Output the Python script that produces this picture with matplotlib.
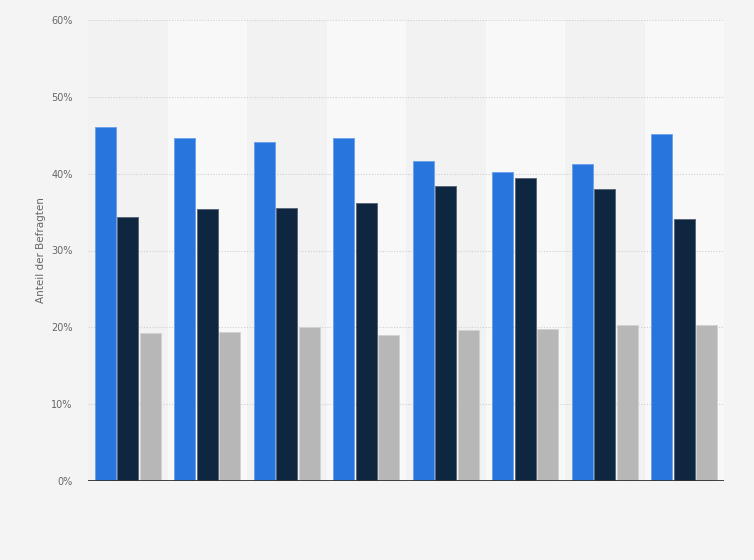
import matplotlib
matplotlib.use("Agg")
import matplotlib.pyplot as plt
import numpy as np

groups = ["1", "2", "3", "4", "5", "6", "7", "8"]
series1 = [46.1, 44.7, 44.1, 44.6, 41.6, 40.2, 41.3, 45.2]
series2 = [34.4, 35.4, 35.5, 36.2, 38.4, 39.5, 38.0, 34.1]
series3 = [19.2, 19.4, 20.0, 19.0, 19.6, 19.8, 20.3, 20.3]
yticks = [0, 10, 20, 30, 40, 50, 60]
ytick_labels = ["0%", "10%", "20%", "30%", "40%", "50%", "60%"]
ylabel = "Anteil der Befragten"

colors = ["#2876dd", "#0f2640", "#b7b7b7"]
edges = ["#6fa3ea", "#5a6878", "#d2d2d2"]

fig = plt.figure(figsize=(7.54, 5.6), dpi=100)
fig.patch.set_facecolor("#f4f4f4")
ax = fig.add_axes([88/754, 79/560, 636/754, 461/560])
ax.set_facecolor("none")

x = np.arange(len(groups))
for i in range(len(groups)):
    ax.axvspan(i - 0.5, i + 0.5, color="#f2f2f2" if i % 2 == 0 else "#f8f8f8", zorder=0, lw=0)

step = 0.283
w = 0.264
for k, vals in enumerate([series1, series2, series3]):
    ax.bar(x + (k - 1) * step, vals, width=w, color=colors[k], edgecolor=edges[k],
           linewidth=0.7, zorder=3)

ax.set_xlim(-0.5, len(groups) - 0.5)
ax.set_ylim(0, 60)
ax.set_yticks(yticks)
ax.set_yticklabels(ytick_labels, fontsize=7, color="#666666")
ax.set_xticks([])
for t in yticks[1:]:
    ax.axhline(t, color="#d0d0d0", lw=0.8, ls=(0, (1, 1.5)), zorder=1)
ax.axhline(0, color="#333333", lw=1.3, zorder=4)
for s in ax.spines.values():
    s.set_visible(False)
ax.tick_params(axis="y", length=0, pad=11)
ax.set_ylabel(ylabel, fontsize=7.5, color="#666666", labelpad=4)

fig.savefig("out.png", dpi=100, facecolor=fig.get_facecolor())
